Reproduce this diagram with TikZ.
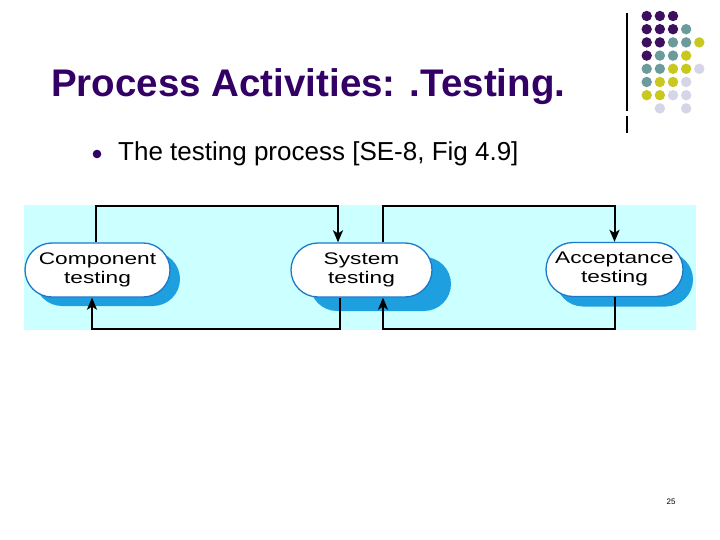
\documentclass[tikz,border=0pt]{standalone}
\usepackage{graphicx}
\usepackage{fontspec}
\setmainfont{Liberation Sans}
\usetikzlibrary{shapes.misc,shadows,arrows.meta,calc}
\definecolor{titlepurple}{RGB}{51,0,102}
\definecolor{cyanbg}{RGB}{204,255,255}
\definecolor{shadowblue}{RGB}{30,160,224}
\definecolor{borderblue}{RGB}{30,120,200}
\definecolor{logoP}{RGB}{60,15,95}
\definecolor{logoT}{RGB}{107,155,155}
\definecolor{logoY}{RGB}{200,200,30}
\definecolor{logoL}{RGB}{213,213,232}
\newcommand\stagetext[2]{\scalebox{1.35}[1]{\begin{tabular}{@{}c@{}}#1\\#2\end{tabular}}}
\tikzset{
  stage/.style={rounded rectangle, draw=borderblue, line width=1.3pt, fill=white,
    minimum height=54pt, inner sep=0pt, font=\fontsize{16.8}{19}\selectfont},
  flow/.style={draw=black, line width=2pt, -{Stealth[length=12pt,width=10pt,inset=3pt]}}
}
\begin{document}
\begin{tikzpicture}[x=1pt,y=-1pt]
\useasboundingbox (0,0) rectangle (720,540);
\fill[white] (0,0) rectangle (720,540);
% logo
\draw[line width=1.3pt] (627,13) -- (627,111);
\draw[line width=1.3pt] (627,116) -- (627,133);
\foreach \c/\r/\col in {0/0/logoP,1/0/logoP,2/0/logoP,
  0/1/logoP,1/1/logoP,2/1/logoP,3/1/logoT,
  0/2/logoP,1/2/logoP,2/2/logoT,3/2/logoT,4/2/logoY,
  0/3/logoP,1/3/logoT,2/3/logoT,3/3/logoY,
  0/4/logoT,1/4/logoT,2/4/logoY,3/4/logoY,4/4/logoL,
  0/5/logoT,1/5/logoY,2/5/logoY,3/5/logoL,
  0/6/logoY,1/6/logoY,2/6/logoL,3/6/logoL,
  1/7/logoL,3/7/logoL}
  \fill[\col] (646.7+13.15*\c, 16+13.2*\r) circle (5.2);
% title
\node[anchor=base west, inner sep=0pt, text=titlepurple, font=\fontsize{38.5}{44}\selectfont\bfseries] (title) at (51,97) {Process Activities: .Testing.};
% bullet
\fill[titlepurple] (97,154) circle (4.3);
\node[anchor=base west, inner sep=0pt, font=\fontsize{26}{30}\selectfont] (bullet) at (118,161) {The testing process [SE-8, Fig 4.9]};
% diagram background
\fill[cyanbg] (24,205) rectangle (696,330);
\node[stage, minimum width=145pt, drop shadow={shadow xshift=10pt, shadow yshift=-9pt, fill=shadowblue, opacity=1}] (comp) at (97.5,270) {\stagetext{Component}{testing}};
\node[stage, minimum width=141pt, drop shadow={shadow xshift=19pt, shadow yshift=-14pt, fill=shadowblue, opacity=1}] (sys) at (361.5,270) {\stagetext{System}{testing}};
\node[stage, minimum width=137pt, drop shadow={shadow xshift=10pt, shadow yshift=-10pt, fill=shadowblue, opacity=1}] (acc) at (614.5,269.5) {\stagetext{Acceptance}{testing}};
% connectors
\draw[flow] ([xshift=-1.5pt]comp.north) -- ++(0,-36) -| ([xshift=-23.5pt]sys.north);
\draw[flow] ([xshift=21.5pt]sys.north) -- ++(0,-36) -| (acc.north);
\draw[flow] (acc.south) -- ++(0,32) -| ([xshift=21.5pt]sys.south);
\draw[flow] ([xshift=-21.5pt]sys.south) -- ++(0,31) -| ([xshift=-5.5pt]comp.south);
% page number
\node[font=\fontsize{8}{9}\selectfont] (pagenum) at (671,502) {25};
\end{tikzpicture}
\end{document}
